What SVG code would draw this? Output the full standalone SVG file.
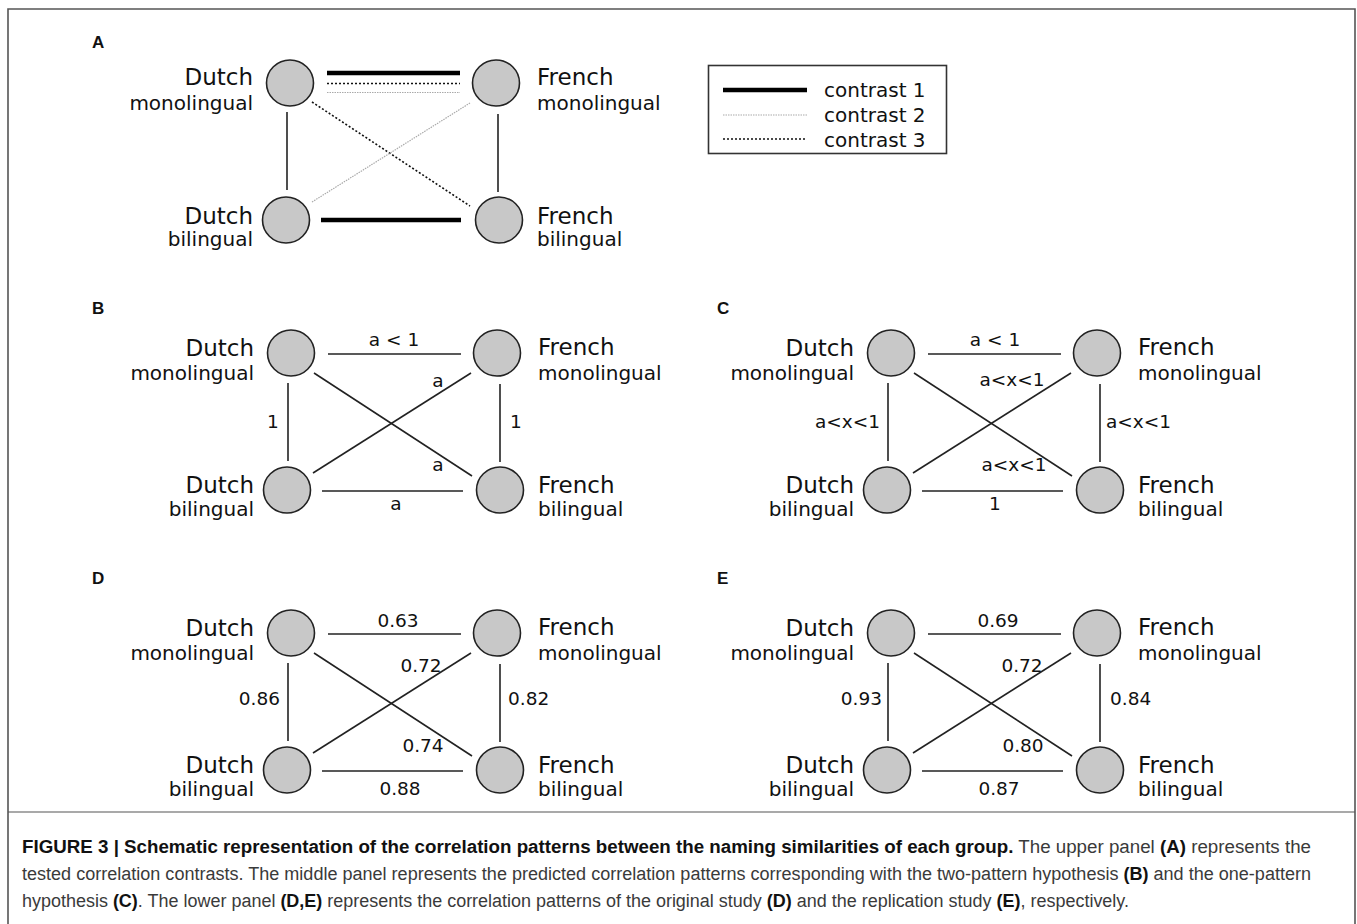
<svg xmlns="http://www.w3.org/2000/svg" width="1357" height="924" viewBox="0 0 1357 924">
<style>
.nd{fill:#c8c8c8;stroke:#222;stroke-width:1.6}
.nm{font-family:"DejaVu Sans",sans-serif;font-size:23px;fill:#111}
.sb{font-family:"DejaVu Sans",sans-serif;font-size:20px;fill:#111}
.el{font-family:"DejaVu Sans",sans-serif;font-size:18.5px;fill:#111}
.lg{font-family:"DejaVu Sans",sans-serif;font-size:20px;fill:#111}
.pl{font-family:"Liberation Sans",Arial,sans-serif;font-size:17px;font-weight:bold;fill:#111}
.e{stroke:#222;stroke-width:1.6;fill:none}
.c1{stroke:#000;stroke-width:4.5;fill:none}
.c2{stroke:#aaa;stroke-width:1.2;stroke-dasharray:1.5 1;fill:none}
.c3{stroke:#111;stroke-width:1.6;stroke-dasharray:2 2;fill:none}
.cap{font-family:"Liberation Sans",Arial,sans-serif;font-size:18px;fill:#3a3a3a}
.b{font-weight:bold;fill:#111}
</style>
<rect width="1357" height="924" fill="#fff"/>
<path d="M8,930 V9 H1355 V930" fill="none" stroke="#555" stroke-width="1.6"/>
<line x1="8" y1="812" x2="1355" y2="812" stroke="#555" stroke-width="1.2"/>

<!-- panel labels -->
<text class="pl" x="92" y="48">A</text>
<text class="pl" x="92" y="314">B</text>
<text class="pl" x="717" y="314">C</text>
<text class="pl" x="92" y="584">D</text>
<text class="pl" x="717" y="584">E</text>

<!-- legend -->
<g id="legend">
<rect x="708.5" y="65.5" width="238" height="88" fill="none" stroke="#333" stroke-width="1.6"/>
<line class="c1" x1="723" y1="90" x2="807" y2="90"/>
<line class="c2" x1="723" y1="115" x2="807" y2="115"/>
<line class="c3" x1="723" y1="139" x2="807" y2="139"/>
<text class="lg" x="824" y="97">contrast 1</text>
<text class="lg" x="824" y="122">contrast 2</text>
<text class="lg" x="824" y="147">contrast 3</text>
</g>

<!-- connectors -->
<g id="connectors">
<!-- A -->
<line class="c1" x1="327" y1="73" x2="460" y2="73"/>
<line class="c3" x1="327" y1="83.5" x2="460" y2="83.5"/>
<line class="c2" x1="327" y1="92.5" x2="460" y2="92.5"/>
<line class="e" x1="287" y1="112" x2="287" y2="190"/>
<line class="e" x1="498" y1="114" x2="498" y2="192"/>
<line class="c3" x1="312" y1="102" x2="470" y2="206"/>
<line class="c2" x1="312" y1="202" x2="470" y2="103"/>
<line class="c1" x1="321" y1="220" x2="461" y2="220"/>
<!-- B -->
<g transform="translate(0,353)">
<line class="e" x1="328" y1="1" x2="461" y2="1"/>
<line class="e" x1="288" y1="30" x2="288" y2="108"/>
<line class="e" x1="500" y1="31" x2="500" y2="109"/>
<line class="e" x1="314" y1="20" x2="472" y2="123"/>
<line class="e" x1="313" y1="120" x2="471" y2="20"/>
<line class="e" x1="322" y1="138" x2="463" y2="138"/>
</g>
<!-- C -->
<g transform="translate(600,353)">
<line class="e" x1="328" y1="1" x2="461" y2="1"/>
<line class="e" x1="288" y1="30" x2="288" y2="108"/>
<line class="e" x1="500" y1="31" x2="500" y2="109"/>
<line class="e" x1="314" y1="20" x2="472" y2="123"/>
<line class="e" x1="313" y1="120" x2="471" y2="20"/>
<line class="e" x1="322" y1="138" x2="463" y2="138"/>
</g>
<!-- D -->
<g transform="translate(0,633)">
<line class="e" x1="328" y1="1" x2="461" y2="1"/>
<line class="e" x1="288" y1="30" x2="288" y2="108"/>
<line class="e" x1="500" y1="31" x2="500" y2="109"/>
<line class="e" x1="314" y1="20" x2="472" y2="123"/>
<line class="e" x1="313" y1="120" x2="471" y2="20"/>
<line class="e" x1="322" y1="138" x2="463" y2="138"/>
</g>
<!-- E -->
<g transform="translate(600,633)">
<line class="e" x1="328" y1="1" x2="461" y2="1"/>
<line class="e" x1="288" y1="30" x2="288" y2="108"/>
<line class="e" x1="500" y1="31" x2="500" y2="109"/>
<line class="e" x1="314" y1="20" x2="472" y2="123"/>
<line class="e" x1="313" y1="120" x2="471" y2="20"/>
<line class="e" x1="322" y1="138" x2="463" y2="138"/>
</g>
</g>

<!-- edge labels -->
<g id="edge-labels" class="el">
<text x="394" y="346" text-anchor="middle">a &lt; 1</text>
<text x="438" y="387" text-anchor="middle">a</text>
<text x="273" y="428" text-anchor="middle">1</text>
<text x="516" y="428" text-anchor="middle">1</text>
<text x="438" y="471" text-anchor="middle">a</text>
<text x="396" y="510" text-anchor="middle">a</text>

<text x="995" y="346" text-anchor="middle">a &lt; 1</text>
<text x="1012" y="386" text-anchor="middle">a&lt;x&lt;1</text>
<text x="880" y="428" text-anchor="end">a&lt;x&lt;1</text>
<text x="1106" y="428">a&lt;x&lt;1</text>
<text x="1014" y="471" text-anchor="middle">a&lt;x&lt;1</text>
<text x="995" y="510" text-anchor="middle">1</text>

<text x="398" y="627" text-anchor="middle">0.63</text>
<text x="421" y="672" text-anchor="middle">0.72</text>
<text x="280" y="705" text-anchor="end">0.86</text>
<text x="508" y="705">0.82</text>
<text x="423" y="752" text-anchor="middle">0.74</text>
<text x="400" y="795" text-anchor="middle">0.88</text>

<text x="998" y="627" text-anchor="middle">0.69</text>
<text x="1022" y="672" text-anchor="middle">0.72</text>
<text x="882" y="705" text-anchor="end">0.93</text>
<text x="1110" y="705">0.84</text>
<text x="1023" y="752" text-anchor="middle">0.80</text>
<text x="999" y="795" text-anchor="middle">0.87</text>
</g>

<!-- Panel A nodes -->
<g id="A-dutch-mono"><ellipse class="nd" cx="290" cy="83" rx="23.5" ry="23"/><text class="nm" x="253" y="85" text-anchor="end">Dutch</text><text class="sb" x="253" y="110" text-anchor="end">monolingual</text></g>
<g id="A-french-mono"><ellipse class="nd" cx="496" cy="83" rx="23.5" ry="23"/><text class="nm" x="537" y="85">French</text><text class="sb" x="537" y="110">monolingual</text></g>
<g id="A-dutch-bi"><ellipse class="nd" cx="286" cy="220" rx="23.5" ry="23"/><text class="nm" x="253" y="224" text-anchor="end">Dutch</text><text class="sb" x="253" y="246" text-anchor="end">bilingual</text></g>
<g id="A-french-bi"><ellipse class="nd" cx="499" cy="220" rx="23.5" ry="23"/><text class="nm" x="537" y="224">French</text><text class="sb" x="537" y="246">bilingual</text></g>

<!-- Panel B nodes -->
<g id="B-dutch-mono"><ellipse class="nd" cx="291" cy="353" rx="23.5" ry="23"/><text class="nm" x="254" y="356" text-anchor="end">Dutch</text><text class="sb" x="254" y="380" text-anchor="end">monolingual</text></g>
<g id="B-french-mono"><ellipse class="nd" cx="497" cy="353" rx="23.5" ry="23"/><text class="nm" x="538" y="355">French</text><text class="sb" x="538" y="380">monolingual</text></g>
<g id="B-dutch-bi"><ellipse class="nd" cx="287" cy="490" rx="23.5" ry="23"/><text class="nm" x="254" y="493" text-anchor="end">Dutch</text><text class="sb" x="254" y="516" text-anchor="end">bilingual</text></g>
<g id="B-french-bi"><ellipse class="nd" cx="500" cy="490" rx="23.5" ry="23"/><text class="nm" x="538" y="493">French</text><text class="sb" x="538" y="516">bilingual</text></g>

<!-- Panel C nodes -->
<g id="C-dutch-mono"><ellipse class="nd" cx="891" cy="353" rx="23.5" ry="23"/><text class="nm" x="854" y="356" text-anchor="end">Dutch</text><text class="sb" x="854" y="380" text-anchor="end">monolingual</text></g>
<g id="C-french-mono"><ellipse class="nd" cx="1097" cy="353" rx="23.5" ry="23"/><text class="nm" x="1138" y="355">French</text><text class="sb" x="1138" y="380">monolingual</text></g>
<g id="C-dutch-bi"><ellipse class="nd" cx="887" cy="490" rx="23.5" ry="23"/><text class="nm" x="854" y="493" text-anchor="end">Dutch</text><text class="sb" x="854" y="516" text-anchor="end">bilingual</text></g>
<g id="C-french-bi"><ellipse class="nd" cx="1100" cy="490" rx="23.5" ry="23"/><text class="nm" x="1138" y="493">French</text><text class="sb" x="1138" y="516">bilingual</text></g>

<!-- Panel D nodes -->
<g id="D-dutch-mono"><ellipse class="nd" cx="291" cy="633" rx="23.5" ry="23"/><text class="nm" x="254" y="636" text-anchor="end">Dutch</text><text class="sb" x="254" y="660" text-anchor="end">monolingual</text></g>
<g id="D-french-mono"><ellipse class="nd" cx="497" cy="633" rx="23.5" ry="23"/><text class="nm" x="538" y="635">French</text><text class="sb" x="538" y="660">monolingual</text></g>
<g id="D-dutch-bi"><ellipse class="nd" cx="287" cy="770" rx="23.5" ry="23"/><text class="nm" x="254" y="773" text-anchor="end">Dutch</text><text class="sb" x="254" y="796" text-anchor="end">bilingual</text></g>
<g id="D-french-bi"><ellipse class="nd" cx="500" cy="770" rx="23.5" ry="23"/><text class="nm" x="538" y="773">French</text><text class="sb" x="538" y="796">bilingual</text></g>

<!-- Panel E nodes -->
<g id="E-dutch-mono"><ellipse class="nd" cx="891" cy="633" rx="23.5" ry="23"/><text class="nm" x="854" y="636" text-anchor="end">Dutch</text><text class="sb" x="854" y="660" text-anchor="end">monolingual</text></g>
<g id="E-french-mono"><ellipse class="nd" cx="1097" cy="633" rx="23.5" ry="23"/><text class="nm" x="1138" y="635">French</text><text class="sb" x="1138" y="660">monolingual</text></g>
<g id="E-dutch-bi"><ellipse class="nd" cx="887" cy="770" rx="23.5" ry="23"/><text class="nm" x="854" y="773" text-anchor="end">Dutch</text><text class="sb" x="854" y="796" text-anchor="end">bilingual</text></g>
<g id="E-french-bi"><ellipse class="nd" cx="1100" cy="770" rx="23.5" ry="23"/><text class="nm" x="1138" y="773">French</text><text class="sb" x="1138" y="796">bilingual</text></g>

<!-- caption -->
<g id="caption" class="cap">
<text x="22" y="853" textLength="1289" lengthAdjust="spacingAndGlyphs"><tspan class="b">FIGURE 3 | Schematic representation of the correlation patterns between the naming similarities of each group.</tspan> The upper panel <tspan class="b">(A)</tspan> represents the</text>
<text x="22" y="880" textLength="1289" lengthAdjust="spacingAndGlyphs">tested correlation contrasts. The middle panel represents the predicted correlation patterns corresponding with the two-pattern hypothesis <tspan class="b">(B)</tspan> and the one-pattern</text>
<text x="22" y="907" textLength="1107" lengthAdjust="spacingAndGlyphs">hypothesis <tspan class="b">(C)</tspan>. The lower panel <tspan class="b">(D,E)</tspan> represents the correlation patterns of the original study <tspan class="b">(D)</tspan> and the replication study <tspan class="b">(E)</tspan>, respectively.</text>
</g>
</svg>
